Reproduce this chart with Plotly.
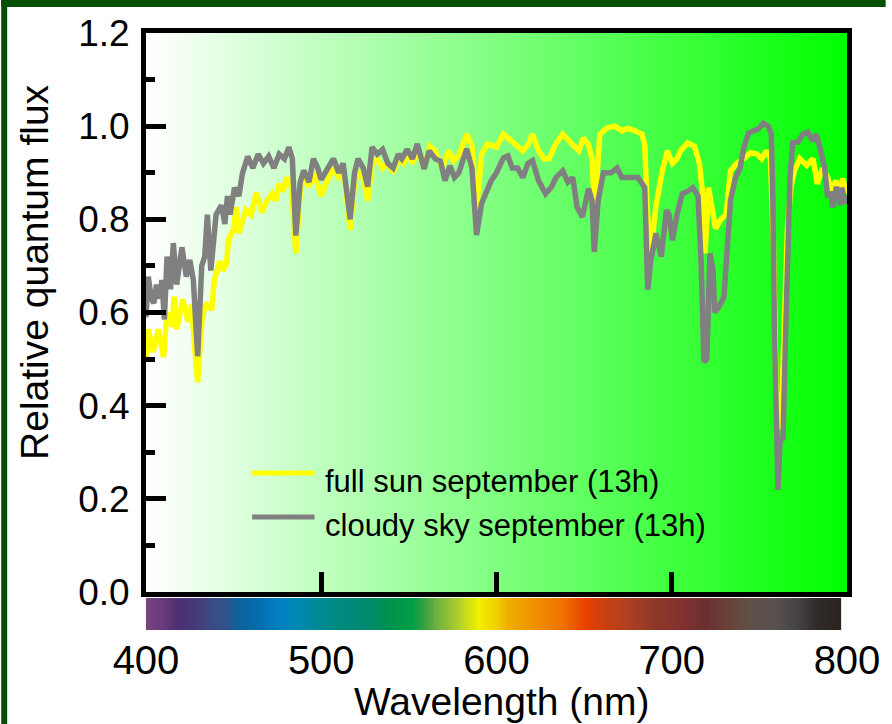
import numpy as np
import plotly.graph_objects as go

# ---------------------------------------------------------------- data
# Full sun, September, 13h
sun_wl = [400, 401.3, 404, 407, 410, 412, 415, 416, 417.5, 421, 424, 426, 428, 429.5,
          432, 434, 437.5, 439, 442, 444, 446, 447, 450, 451.5, 453, 455, 457, 460,
          463, 466, 469, 472, 474, 476, 478, 480.5, 483, 485.5, 488, 490, 493, 496,
          500, 503, 507, 510, 513, 516.5, 519, 521, 524, 526.5, 529, 532, 535, 538,
          541, 544, 547, 550, 552, 554.8, 558.7, 562, 565, 569, 572.8, 575.6, 579,
          583, 586, 588.6, 591.5, 595, 600, 604, 608, 611, 615, 618, 620.6, 624, 627,
          630, 633.8, 637.8, 640.7, 643.5, 647, 649.6, 652.5, 654.5, 656, 657.5, 659,
          663, 667.7, 671.6, 675, 679, 683, 684.6, 686, 688, 691, 694.6, 697.5, 700.4,
          703, 705, 709, 712.9, 715.8, 717.5, 719, 721, 723.5, 725, 728, 731, 733.5,
          737, 741, 745, 748.6, 751.4, 754, 756.3, 758, 759.5, 761, 762.5, 764, 766,
          768, 770, 773, 777, 780.6, 783, 786, 789, 791, 793.6, 795.5, 797.6, 800]
sun_flux = [0.50, 0.564, 0.515, 0.564, 0.504, 0.60, 0.57, 0.634, 0.564, 0.628, 0.58, 0.617,
            0.515, 0.45, 0.585, 0.62, 0.606, 0.67, 0.71, 0.69, 0.706, 0.755, 0.78, 0.826,
            0.77, 0.80, 0.82, 0.81, 0.857, 0.815, 0.84, 0.855, 0.84, 0.876, 0.86, 0.89,
            0.87, 0.727, 0.86, 0.89, 0.87, 0.90, 0.85, 0.88, 0.91, 0.89, 0.90, 0.777,
            0.88, 0.90, 0.89, 0.84, 0.92, 0.93, 0.91, 0.92, 0.90, 0.93, 0.92, 0.94, 0.92,
            0.947, 0.91, 0.957, 0.947, 0.911, 0.947, 0.925, 0.94, 0.983, 0.957, 0.82,
            0.94, 0.962, 0.955, 0.983, 0.97, 0.96, 0.947, 0.96, 0.983, 0.947, 0.93, 0.93,
            0.962, 0.983, 0.97, 0.96, 0.947, 0.975, 0.96, 0.93, 0.82, 0.93, 0.983, 0.996,
            1.00, 0.99, 0.995, 0.99, 0.983, 0.96, 0.82, 0.727, 0.83, 0.904, 0.947, 0.92,
            0.93, 0.947, 0.964, 0.957, 0.92, 0.86, 0.727, 0.868, 0.80, 0.78, 0.80, 0.81,
            0.904, 0.92, 0.93, 0.943, 0.94, 0.93, 0.947, 0.93, 0.75, 0.45, 0.35, 0.37,
            0.55, 0.78, 0.87, 0.904, 0.93, 0.916, 0.93, 0.876, 0.91, 0.89, 0.86, 0.883,
            0.86, 0.887, 0.855]

# Cloudy sky, September, 13h
cloud_wl = [400, 401.3, 403, 404.5, 406, 408, 409, 410.5, 412, 414, 415.6, 417.5, 420.5,
            423, 425, 427, 429.5, 431.8, 433.5, 435, 437, 440, 443, 445, 446.5, 448,
            450.5, 453, 455, 458, 461, 464, 467, 470, 473, 476, 479, 481.5, 483.5, 485.5,
            488, 490, 493, 495.5, 498, 500, 503, 507, 510, 512.5, 516.5, 519, 521, 524,
            526.5, 529, 532, 535, 538, 541, 544, 546, 549, 552, 554.8, 558.7, 561.6, 565,
            568, 570.6, 573.4, 576, 578.5, 583, 586, 588.6, 591.5, 594, 597, 600, 604,
            606.5, 609, 612, 615, 618, 620.6, 624, 628, 631.5, 634, 637.8, 640.7, 643.5,
            646, 649, 651, 652.5, 654.5, 655.8, 658, 661, 665.5, 668.8, 671.6, 677,
            680.7, 684.6, 686.3, 688, 691, 694, 697, 698.5, 700.4, 703, 706, 709, 712,
            715, 716.7, 718.4, 720, 721.8, 723.6, 724.5, 727, 729.8, 731.6, 733.5, 736.3,
            739, 741, 743.8, 746.6, 749.4, 752.3, 755, 756.8, 757.7, 758.6, 759.5, 760.6,
            761.8, 763.5, 765, 766.5, 767.5, 769, 772, 775, 777.6, 780.6, 782.5, 785,
            787.2, 789, 790.5, 791.9, 794, 796, 797, 799.2, 800]
cloud_flux = [0.59, 0.677, 0.63, 0.62, 0.66, 0.63, 0.67, 0.585, 0.72, 0.65, 0.749, 0.66,
              0.74, 0.677, 0.713, 0.67, 0.506, 0.70, 0.72, 0.81, 0.69, 0.81, 0.83, 0.79,
              0.85, 0.81, 0.868, 0.85, 0.898, 0.935, 0.91, 0.94, 0.92, 0.935, 0.91, 0.94,
              0.93, 0.955, 0.93, 0.765, 0.88, 0.905, 0.88, 0.93, 0.91, 0.885, 0.905, 0.93,
              0.90, 0.92, 0.80, 0.90, 0.93, 0.91, 0.87, 0.955, 0.94, 0.95, 0.92, 0.91, 0.94,
              0.93, 0.95, 0.93, 0.962, 0.908, 0.947, 0.93, 0.925, 0.883, 0.915, 0.89, 0.90,
              0.951, 0.91, 0.766, 0.834, 0.86, 0.883, 0.90, 0.932, 0.936, 0.91, 0.91, 0.89,
              0.92, 0.926, 0.883, 0.855, 0.87, 0.89, 0.904, 0.88, 0.89, 0.826, 0.805, 0.85,
              0.866, 0.84, 0.73, 0.84, 0.90, 0.90, 0.91, 0.89, 0.89, 0.89, 0.868, 0.649,
              0.71, 0.77, 0.72, 0.82, 0.81, 0.755, 0.81, 0.855, 0.86, 0.868, 0.85, 0.713,
              0.494, 0.50, 0.727, 0.69, 0.60, 0.613, 0.634, 0.734, 0.84, 0.889, 0.91, 0.953,
              0.985, 0.99, 0.994, 1.006, 1.00, 0.983, 0.84, 0.557, 0.345, 0.219, 0.324,
              0.33, 0.56, 0.77, 0.89, 0.964, 0.966, 0.983, 0.987, 0.968, 0.983, 0.947,
              0.911, 0.847, 0.86, 0.826, 0.87, 0.83, 0.868, 0.834, 0.85]

series_names = ["full sun september (13h)", "cloudy sky september (13h)"]

x_tick_values = [400, 500, 600, 700, 800]
x_inner_ticks = [500, 600, 700]

# Visible spectrum strip under the x axis: wavelength stops
spectrum_nm = [400, 410, 418, 428, 438, 446, 452, 462, 476, 486, 497, 510, 525, 537,
               552, 558, 566, 577, 590, 600, 606, 622, 638, 651, 662, 674, 689, 707,
               720, 730, 745, 760, 773, 783, 796]

# ---------------------------------------------------------------- styles
spectrum_colors = ["#7a4282", "#6a3a7a", "#4e2e72", "#463a78", "#3a4c84", "#2f548c",
                   "#10609c", "#066aa8", "#0080c2", "#0088b4", "#008a98", "#008a80",
                   "#008870", "#009050", "#00a046", "#30a040", "#70b040", "#a8cc30",
                   "#f0f000", "#f0d000", "#f0b000", "#f09000", "#f07000", "#e84000",
                   "#c84010", "#b04020", "#903828", "#803030", "#6a3030", "#6a4038",
                   "#605048", "#585050", "#404040", "#302a28", "#2a2520"]
SUN_COLOR = "#ffff00"
CLOUD_COLOR = "#808080"
FRAME_GREEN = "#064d06"
FONT = "Liberation Sans, Arial, sans-serif"

W, H = 892, 724
L, R, T, B = 146, 853, 33, 630          # plotting region in pixels
MAIN_BOTTOM = 592                       # bottom of the spectral-flux panel
BAR_TOP, BAR_BOTTOM = 598, 630          # spectrum strip


def px_x(xp):
    return (xp - L) / (R - L)


def px_y(yp):
    return (B - yp) / (B - T)


fig = go.Figure()

# white-to-green background of the flux panel
bg_x = np.linspace(400, 800, 401)
fig.add_trace(go.Heatmap(
    x=bg_x, y=[0, 1.2], z=[bg_x, bg_x],
    colorscale=[[0, "#ffffff"], [1, "#00ff00"]],
    showscale=False, hoverinfo="skip", xaxis="x", yaxis="y"))

# spectrum strip
lo, hi = spectrum_nm[0], spectrum_nm[-1]
spec_scale = [[(w - lo) / (hi - lo), c] for w, c in zip(spectrum_nm, spectrum_colors)]
strip_x = np.arange(lo, hi + 1, 1.0)
fig.add_trace(go.Heatmap(
    x=strip_x, y=[0, 1], z=[strip_x, strip_x], zmin=lo, zmax=hi,
    colorscale=spec_scale, showscale=False, hoverinfo="skip",
    xaxis="x2", yaxis="y2"))

# flux curves
fig.add_trace(go.Scatter(x=sun_wl, y=sun_flux, mode="lines", name=series_names[0],
                         line=dict(color=SUN_COLOR, width=5.5)))
fig.add_trace(go.Scatter(x=cloud_wl, y=cloud_flux, mode="lines", name=series_names[1],
                         line=dict(color=CLOUD_COLOR, width=5.5)))

shapes = [
    # dark green edge of the page
    dict(type="rect", xref="paper", yref="paper", x0=px_x(0), x1=px_x(W),
         y0=px_y(7), y1=px_y(0), fillcolor=FRAME_GREEN, line_width=0),
    dict(type="rect", xref="paper", yref="paper", x0=px_x(0), x1=px_x(6),
         y0=px_y(H), y1=px_y(0), fillcolor=FRAME_GREEN, line_width=0),
]
annotations = []

# legend drawn by hand: sample line + label
legend_rows = [(473, SUN_COLOR, series_names[0]), (517, CLOUD_COLOR, series_names[1])]
for ly, col, label in legend_rows:
    shapes.append(dict(type="line", xref="paper", yref="paper",
                       x0=px_x(253), x1=px_x(316), y0=px_y(ly), y1=px_y(ly),
                       line=dict(color=col, width=5)))
    annotations.append(dict(xref="paper", yref="paper", x=px_x(325), y=px_y(ly + 8),
                            xanchor="left", yanchor="middle", text=label, showarrow=False,
                            font=dict(family=FONT, size=31, color="black")))

# axis titles
annotations.append(dict(xref="paper", yref="paper", x=px_x(33), y=px_y(272),
                        xanchor="center", yanchor="middle", textangle=-90,
                        text="Relative quantum flux", showarrow=False,
                        font=dict(family=FONT, size=39, color="black")))
annotations.append(dict(xref="paper", yref="paper", x=px_x(505), y=px_y(701),
                        xanchor="center", yanchor="middle",
                        text="Wavelength (nm)", showarrow=False,
                        font=dict(family=FONT, size=39, color="black")))

fig.update_layout(
    width=W, height=H,
    margin=dict(l=L, r=W - R, t=T, b=H - B, pad=0),
    paper_bgcolor="white", plot_bgcolor="white",
    showlegend=False,
    font=dict(family=FONT, color="black"),
    xaxis=dict(domain=[0, 1], range=[400, 800], anchor="y",
               showline=True, linewidth=5, linecolor="black", mirror=True,
               ticks="inside", ticklen=20, tickwidth=5, tickcolor="black",
               tickvals=x_inner_ticks, showticklabels=False,
               showgrid=False, zeroline=False),
    yaxis=dict(domain=[px_y(MAIN_BOTTOM), 1], range=[0, 1.2], anchor="x",
               showline=True, linewidth=5, linecolor="black", mirror=True,
               ticks="inside", ticklen=20, tickwidth=5, tickcolor="black",
               tick0=0, dtick=0.2, tickformat=".1f",
               tickfont=dict(family=FONT, size=37, color="black"),
               ticklabelstandoff=4,
               minor=dict(ticks="inside", ticklen=9, tickwidth=5, tickcolor="black",
                          tick0=0, dtick=0.1, showgrid=False),
               showgrid=False, zeroline=False),
    xaxis2=dict(domain=[0, 1], range=[400, 800], anchor="y2",
                showline=False, ticks="", tickvals=x_tick_values,
                tickfont=dict(family=FONT, size=40, color="black"),
                ticklabelstandoff=3,
                showgrid=False, zeroline=False),
    yaxis2=dict(domain=[0, px_y(BAR_TOP)], range=[0, 1], anchor="x2",
                visible=False, showgrid=False, zeroline=False),
    shapes=shapes,
    annotations=annotations,
)

fig.write_html("out.html")
